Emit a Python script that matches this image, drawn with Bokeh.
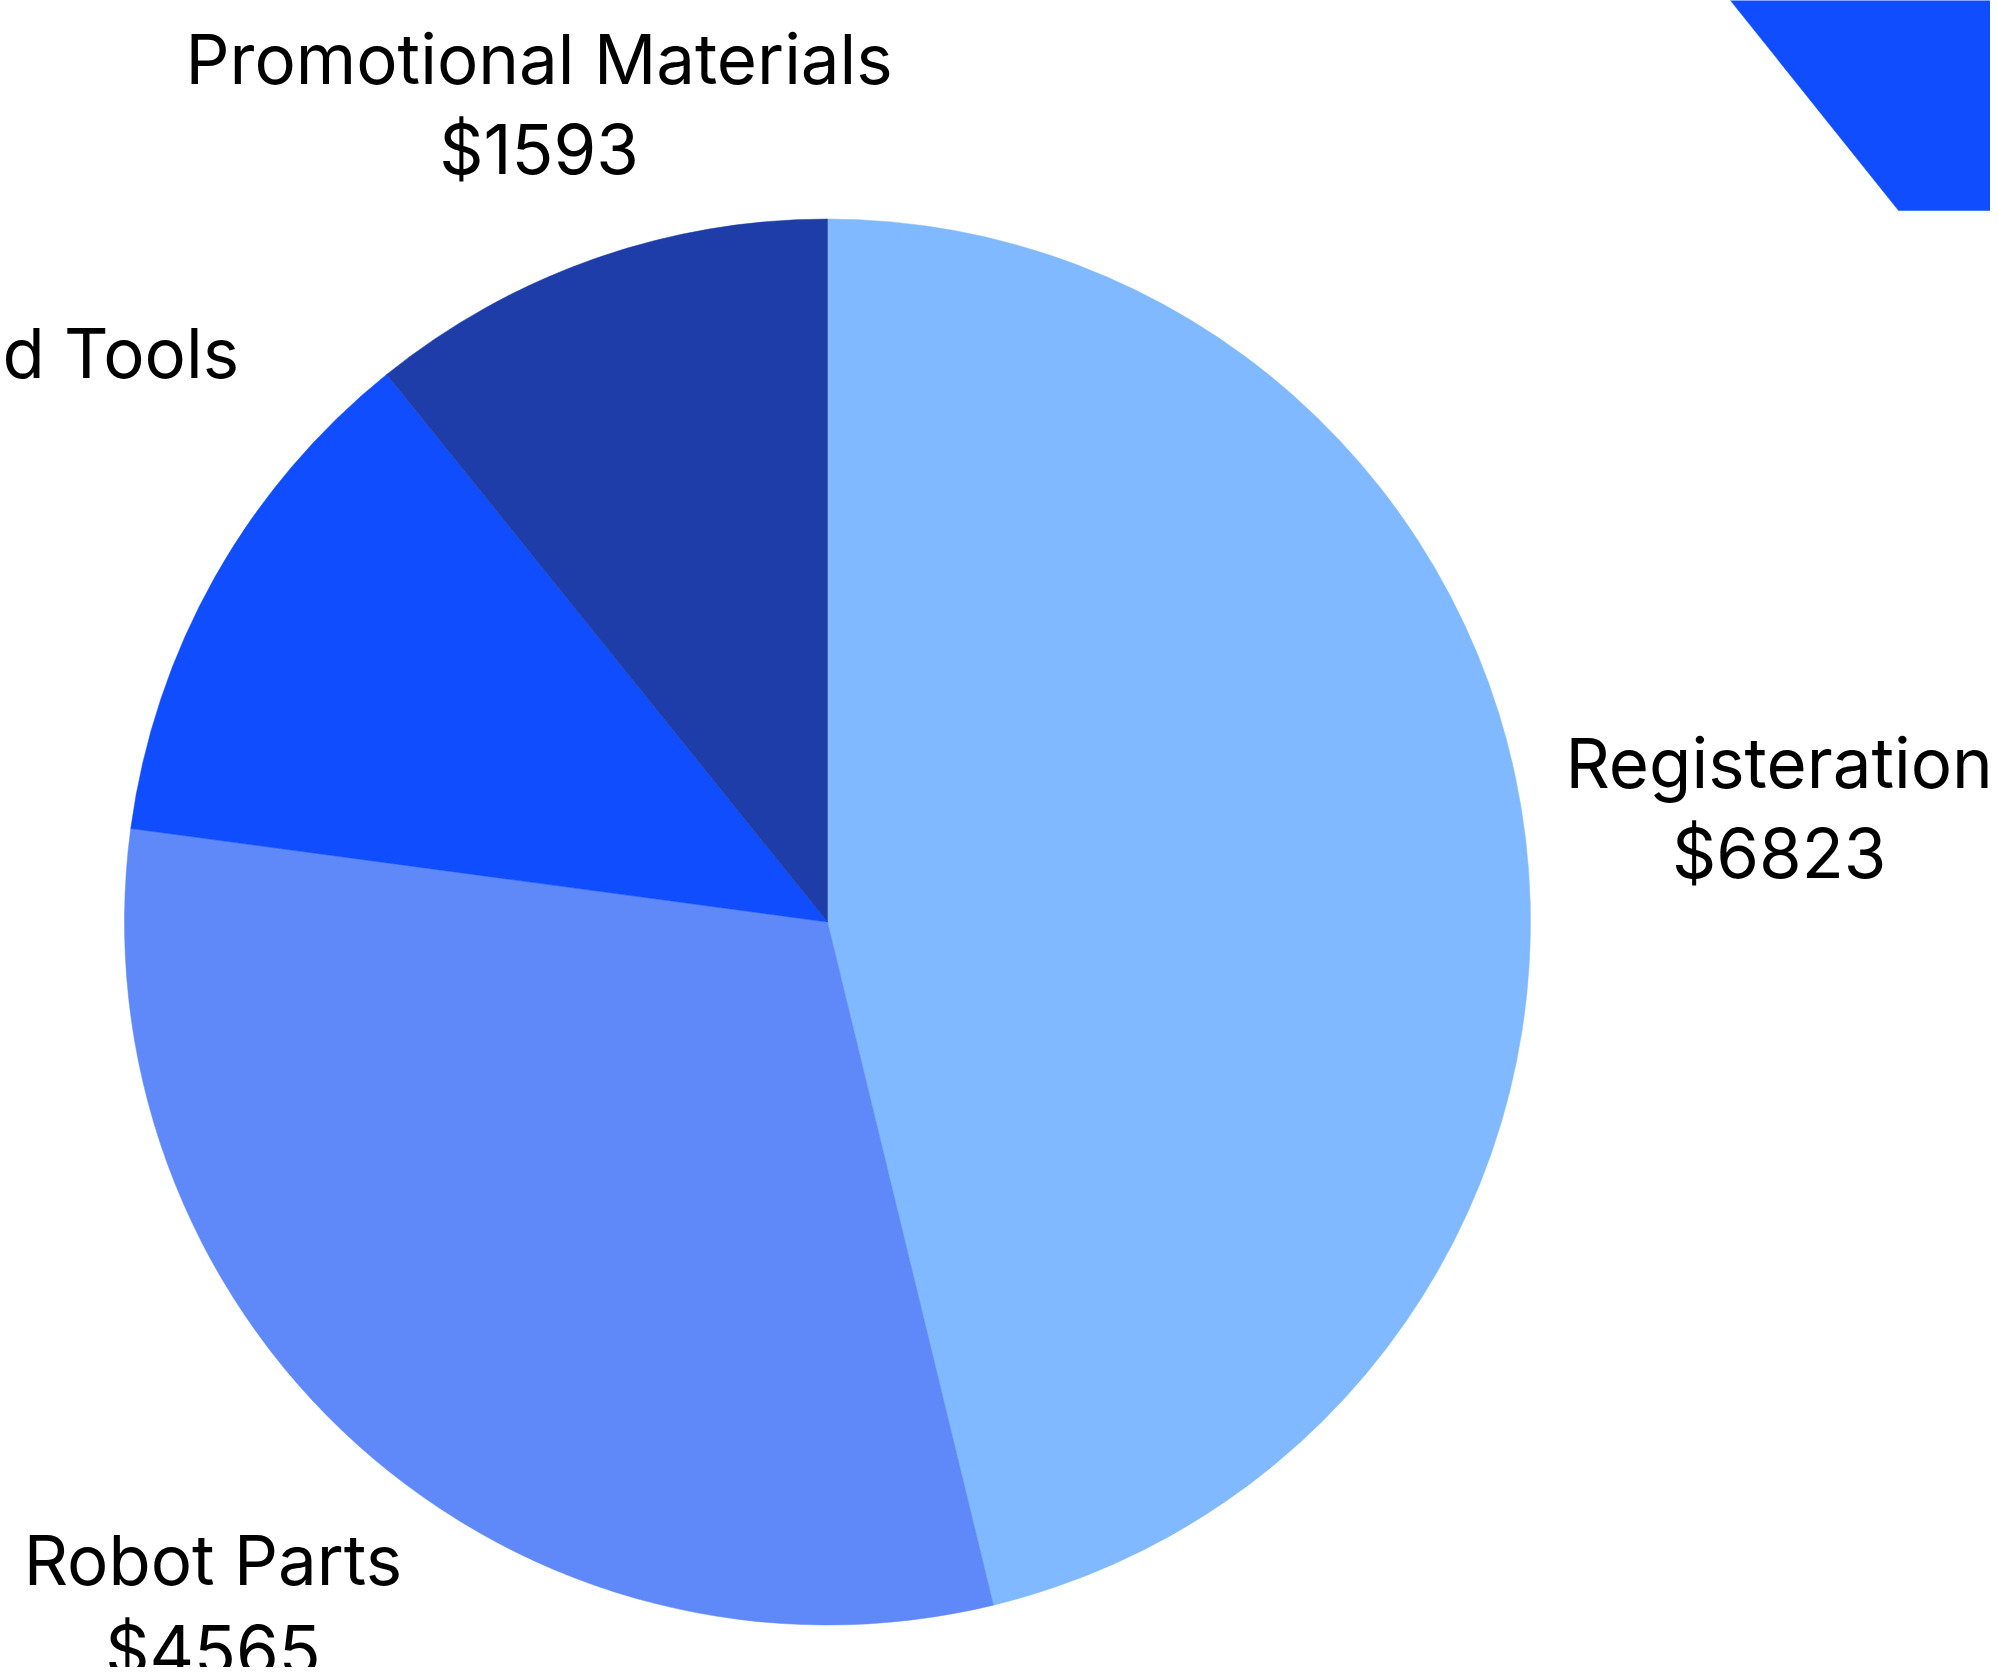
import math
from bokeh.plotting import figure
from bokeh.models import Range1d, ColumnDataSource
from bokeh.core.properties import value
from bokeh.embed import file_html
from bokeh.resources import INLINE

# ---- data ----
categories = ["Registeration", "Robot Parts", "Equipment and Tools", "Promotional Materials"]
amounts = [6823, 4565, 1785, 1593]
colors = ["#80B9FF", "#5F88F8", "#0F4DFF", "#1F3DA8"]

# ---- layout ----
W, H = 1990, 1667
CX, CY = 827, -921.5      # picture px, y up (negative)
R = 703
LABEL_GAP = 740
FONT = "Inter"
FONT_PX = 69
HALF_H = 78
LINE_OFF = 45

# rough advance widths (em) of the label font, used to size label boxes
GLYPH_EM = {" ": .28, "E": .60, "M": .86, "P": .63, "R": .64, "T": .63,
            "a": .55, "b": .60, "d": .60, "e": .57, "g": .60, "i": .24, "l": .24,
            "m": .88, "n": .58, "o": .58, "p": .60, "q": .60, "r": .37, "s": .52,
            "t": .35, "u": .58, "$": .62}

def text_w(s):
    return sum(GLYPH_EM.get(c, .62) for c in s) * FONT_PX

p = figure(width=W, height=H, output_backend="svg", toolbar_location=None,
           x_range=Range1d(0, W), y_range=Range1d(-H, 0),
           x_axis_location=None, y_axis_location=None, min_border=0)
p.grid.visible = False
p.outline_line_color = None
p.background_fill_color = "white"

total = sum(amounts)
starts, ends, mids = [], [], []
cum = 0.0
for v in amounts:
    a0 = math.pi / 2 - 2 * math.pi * cum / total
    cum += v
    a1 = math.pi / 2 - 2 * math.pi * cum / total
    starts.append(a0)
    ends.append(a1)
    mids.append((a0 + a1) / 2)

src = ColumnDataSource(dict(start=starts, end=ends, color=colors,
                            x=[CX] * len(amounts), y=[CY] * len(amounts)))
p.wedge(x="x", y="y", radius=R, start_angle="start", end_angle="end",
        direction="clock", fill_color="color", line_color="color", line_width=0.5, source=src)

# decorative shape at the top right (part of an offset blue wedge)
deco_x = [1722, 1898, 2010, 2010]
deco_y = [10, -210, -210, 10]
p.patch(deco_x, deco_y, fill_color="#0F4DFF", line_color="#0F4DFF", line_width=0.5)

# ---- labels ----
def box_dist(px, py, hw, hh):
    dx = max(abs(px - CX) - hw, 0)
    dy = max(abs(py - CY) - hh, 0)
    return math.hypot(dx, dy)

lx, ly, lt = [], [], []
for name, v, m in zip(categories, amounts, mids):
    ux, uy = math.cos(m), math.sin(m)
    val = "$" + str(v)
    hw = max(text_w(name), text_w(val)) / 2
    lo, hi = 0.0, 3000.0
    for _ in range(60):
        t = (lo + hi) / 2
        if box_dist(CX + t * ux, CY + t * uy, hw, HALF_H) < LABEL_GAP:
            lo = t
        else:
            hi = t
    px, py = CX + lo * ux, CY + lo * uy
    lx += [px, px]
    ly += [py + LINE_OFF, py - LINE_OFF]
    lt += [name, val]

p.text(x=lx, y=ly, text=lt, text_align="center", text_baseline="middle",
       text_font=value(FONT), text_font_size=f"{FONT_PX}px", text_color="#000000")

open("out.html", "w").write(file_html(p, INLINE))
